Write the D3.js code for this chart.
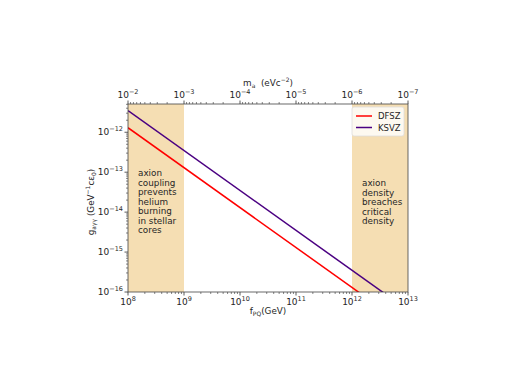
<!DOCTYPE html>
<html>
<head>
<meta charset="utf-8">
<script src="https://cdn.jsdelivr.net/npm/d3@7"></script>
<style>
  body { margin: 0; background: #fff; }
  text { font-family: "DejaVu Sans", sans-serif; fill: #262626; }
</style>
</head>
<body>
<svg id="chart" width="527" height="372"></svg>
<script>
// data
var fPQ = [1e8, 1e13]
var dfsz = [1.3e-12, 1.3e-17]
var ksvz = [3.5e-12, 3.5e-17]
var xDomain = [1e8, 1e13]
var yDomain = [1e-16, 5.1e-12]
var maDomain = [1e-2, 1e-7]
var shaded = [[1e8, 1e9], [1e12, 1e13]]
var xTicks = [8, 9, 10, 11, 12, 13]
var yTicks = [-16, -15, -14, -13, -12]
var maTicks = [-2, -3, -4, -5, -6, -7]
var leftNote = ['axion', 'coupling', 'prevents', 'helium', 'burning', 'in stellar', 'cores']
var rightNote = ['axion', 'density', 'breaches', 'critical', 'density']
var series = [
  { name: 'DFSZ', values: dfsz, color: 'red' },
  { name: 'KSVZ', values: ksvz, color: 'indigo' }
]

var margin = { left: 128, right: 408, top: 104, bottom: 292 }
var svg = d3.select('#chart')

var x = d3.scaleLog().domain(xDomain).range([margin.left, margin.right])
var y = d3.scaleLog().domain(yDomain).range([margin.bottom, margin.top])
var xTop = d3.scaleLog().domain(maDomain).range([margin.left, margin.right])

svg.append('clipPath').attr('id', 'clip')
  .append('rect')
  .attr('x', margin.left).attr('y', margin.top)
  .attr('width', margin.right - margin.left).attr('height', margin.bottom - margin.top)

var plot = svg.append('g').attr('clip-path', 'url(#clip)')

plot.selectAll('rect.band').data(shaded).enter().append('rect')
  .attr('class', 'band')
  .attr('x', d => x(d[0]))
  .attr('width', d => x(d[1]) - x(d[0]))
  .attr('y', margin.top)
  .attr('height', margin.bottom - margin.top)
  .attr('fill', '#f5deb3')

var line = d3.line().x(d => x(d[0])).y(d => y(d[1]))
series.forEach(function (s) {
  plot.append('path')
    .attr('d', line(fPQ.map((f, i) => [f, s.values[i]])))
    .attr('fill', 'none')
    .attr('stroke', s.color)
    .attr('stroke-width', 1.5)
})

// power-of-ten label helper
function pow10(sel, e) {
  sel.append('tspan').text('10')
  sel.append('tspan').attr('dy', -4).attr('font-size', 6.5).text(e < 0 ? '\u2212' + (-e) : e)
}

function minorTicks(lo, hi) {
  var out = []
  for (var e = lo; e < hi; e++) for (var k = 2; k < 10; k++) out.push(k * Math.pow(10, e))
  return out
}

var axes = svg.append('g')
var tickColor = '#333'

// bottom axis
xTicks.forEach(function (e) {
  var px = x(Math.pow(10, e))
  axes.append('line').attr('x1', px).attr('x2', px).attr('y1', margin.bottom).attr('y2', margin.bottom + 3.5).attr('stroke', tickColor).attr('stroke-width', 0.8)
  var t = axes.append('text').attr('x', px).attr('y', margin.bottom + 12.5).attr('text-anchor', 'middle').attr('font-size', 9)
  pow10(t, e)
})
minorTicks(8, 13).forEach(function (v) {
  var px = x(v)
  axes.append('line').attr('x1', px).attr('x2', px).attr('y1', margin.bottom).attr('y2', margin.bottom + 2).attr('stroke', tickColor).attr('stroke-width', 0.6)
})

// top axis (axion mass)
maTicks.forEach(function (e) {
  var px = xTop(Math.pow(10, e))
  axes.append('line').attr('x1', px).attr('x2', px).attr('y1', margin.top).attr('y2', margin.top - 3.5).attr('stroke', tickColor).attr('stroke-width', 0.8)
  var t = axes.append('text').attr('x', px).attr('y', margin.top - 6).attr('text-anchor', 'middle').attr('font-size', 9)
  pow10(t, e)
})
minorTicks(-7, -2).forEach(function (v) {
  var px = xTop(v)
  axes.append('line').attr('x1', px).attr('x2', px).attr('y1', margin.top).attr('y2', margin.top - 2).attr('stroke', tickColor).attr('stroke-width', 0.6)
})

// left axis
yTicks.forEach(function (e) {
  var py = y(Math.pow(10, e))
  axes.append('line').attr('x1', margin.left).attr('x2', margin.left - 3.5).attr('y1', py).attr('y2', py).attr('stroke', tickColor).attr('stroke-width', 0.8)
  var t = axes.append('text').attr('x', margin.left - 5).attr('y', py + 3).attr('text-anchor', 'end').attr('font-size', 9)
  pow10(t, e)
})
minorTicks(-16, -11).filter(v => v <= yDomain[1]).forEach(function (v) {
  var py = y(v)
  axes.append('line').attr('x1', margin.left).attr('x2', margin.left - 2).attr('y1', py).attr('y2', py).attr('stroke', tickColor).attr('stroke-width', 0.6)
})

// frame
axes.append('rect')
  .attr('x', margin.left).attr('y', margin.top)
  .attr('width', margin.right - margin.left).attr('height', margin.bottom - margin.top)
  .attr('fill', 'none').attr('stroke', '#444').attr('stroke-width', 0.8)

// axis titles
var xl = svg.append('text').attr('x', (margin.left + margin.right) / 2).attr('y', 314).attr('text-anchor', 'middle').attr('font-size', 8.8)
xl.append('tspan').text('f')
xl.append('tspan').attr('dy', 2).attr('font-size', 6).text('PQ')
xl.append('tspan').attr('dy', -2).text('(GeV)')

var tl = svg.append('text').attr('x', (margin.left + margin.right) / 2).attr('y', 86).attr('text-anchor', 'middle').attr('font-size', 8.8)
tl.append('tspan').text('m')
tl.append('tspan').attr('dy', 2).attr('font-size', 6).text('a')
tl.append('tspan').attr('dy', -2).text('\u00a0 (eVc')
tl.append('tspan').attr('dy', -4).attr('font-size', 6).text('\u22122')
tl.append('tspan').attr('dy', 4).text(')')

var yl = svg.append('text').attr('transform', 'translate(94,' + ((margin.top + margin.bottom) / 2 + 4) + ') rotate(-90)').attr('text-anchor', 'middle').attr('font-size', 8.8)
yl.append('tspan').text('g')
yl.append('tspan').attr('dy', 2).attr('font-size', 6).text('a\u03b3\u03b3')
yl.append('tspan').attr('dy', -2).text(' (GeV')
yl.append('tspan').attr('dy', -4).attr('font-size', 6).text('\u22121')
yl.append('tspan').attr('dy', 4).text('c\u03b5')
yl.append('tspan').attr('dy', 2).attr('font-size', 6).text('0')
yl.append('tspan').attr('dy', -2).text(')')

// region notes
function note(lines, px, py) {
  var t = svg.append('text').attr('font-size', 8.8)
  lines.forEach(function (s, i) {
    t.append('tspan').attr('x', px).attr('y', py + i * 9.5).text(s)
  })
}
note(leftNote, 138, 176)
note(rightNote, 362, 186)

// legend
var lg = svg.append('g')
lg.append('rect').attr('x', 352).attr('y', 107).attr('width', 52).attr('height', 29).attr('rx', 2)
  .attr('fill', 'rgba(255,255,255,0.8)').attr('stroke', '#ddd').attr('stroke-width', 0.8)
series.forEach(function (s, i) {
  var ly = 116 + i * 11.5
  lg.append('line').attr('x1', 356).attr('x2', 372).attr('y1', ly).attr('y2', ly).attr('stroke', s.color).attr('stroke-width', 1.5)
  lg.append('text').attr('x', 378).attr('y', ly + 3).attr('font-size', 8.5).text(s.name)
})
</script>
</body>
</html>
